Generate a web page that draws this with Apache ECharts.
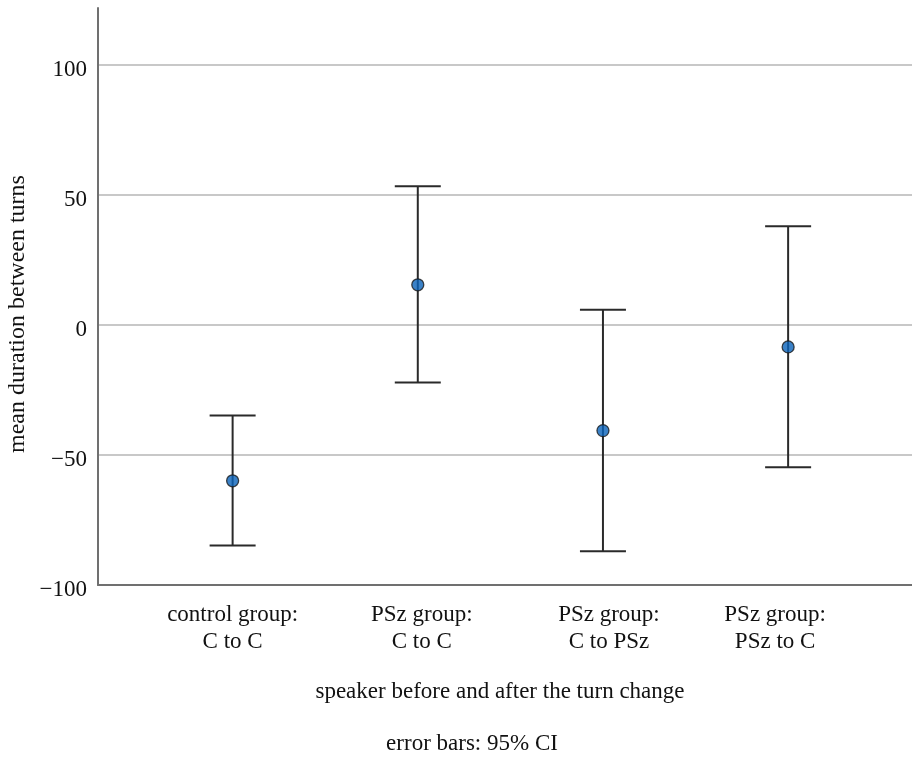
<!DOCTYPE html>
<html><head><meta charset="utf-8">
<script src="https://cdn.jsdelivr.net/npm/echarts@6/dist/echarts.min.js"></script>
<style>html,body{margin:0;padding:0;background:#fff}#c{width:912px;height:762px}</style>
</head><body><div id="c"></div>
<script>
const categories = ['control group:\nC to C', 'PSz group:\nC to C', 'PSz group:\nC to PSz', 'PSz group:\nPSz to C'];
const means = [-59.9, 15.5, -40.6, -8.4];
const lower = [-84.8, -22.1, -87.0, -54.7];
const upper = [-34.8, 53.4, 5.9, 38.0];
const yTicks = [-100, -50, 0, 50, 100];
const xTitle = 'speaker before and after the turn change';
const yTitle = 'mean duration between turns';
const note = 'error bars: 95% CI';

const FONT = '"Liberation Serif", "Times New Roman", serif';
const FS = 23;
const positions = categories.map((c, i) => i + 1);
const errData = positions.map((p, i) => [p, lower[i], upper[i]]);
const meanData = positions.map((p, i) => [p, means[i]]);

const lab = (pad) => ({fontFamily: FONT, fontSize: FS, color: '#111', lineHeight: 27, align: 'center', padding: pad});

const chart = echarts.init(document.getElementById('c'), null, {renderer: 'canvas'});
chart.setOption({
  animation: false,
  grid: {left: 98, right: 0, top: 8, bottom: 177, containLabel: false},
  xAxis: {
    type: 'value', min: 0.273, max: 4.669,
    axisLine: {show: true, onZero: false, lineStyle: {color: '#707070', width: 2}},
    axisTick: {show: false},
    splitLine: {show: false},
    axisLabel: {
      customValues: positions,
      margin: 16,
      formatter: function (v) {
        const i = Math.round(v) - 1;
        const lines = (categories[i] || '').split('\n');
        const st = 'c' + i;
        return lines.map(l => '{' + st + '|' + l + '}').join('\n');
      },
      rich: {
        c0: lab([0, 0, 0, 0]),
        c1: lab([0, 0, 0, 8]),
        c2: lab([0, 0, 0, 12]),
        c3: lab([0, 26, 0, 0])
      }
    }
  },
  yAxis: {
    type: 'value', min: -100, max: 122, interval: 50,
    axisLine: {show: true, onZero: false, lineStyle: {color: '#707070', width: 2}},
    axisTick: {show: false},
    splitLine: {show: true, showMaxLine: false, lineStyle: {color: '#c8c8c8', width: 2}},
    axisLabel: {
      customValues: yTicks,
      margin: 11,
      formatter: v => '{t|' + String(v).replace('-', '\u2212') + '}',
      rich: {
        t: {fontFamily: FONT, fontSize: FS, color: '#111', padding: [9, 0, 0, 0]}
      }
    }
  },
  series: [
    {
      type: 'custom',
      data: errData,
      encode: {x: 0, y: [1, 2]},
      renderItem: function (params, api) {
        const x = api.value(0);
        const lo = api.coord([x, api.value(1)]);
        const hi = api.coord([x, api.value(2)]);
        const hw = 23;
        const style = {stroke: '#2a2a2a', lineWidth: 2};
        return {
          type: 'group',
          children: [
            {type: 'line', shape: {x1: lo[0], y1: lo[1], x2: hi[0], y2: hi[1]}, style: style},
            {type: 'line', shape: {x1: hi[0] - hw, y1: hi[1], x2: hi[0] + hw, y2: hi[1]}, style: style},
            {type: 'line', shape: {x1: lo[0] - hw, y1: lo[1], x2: lo[0] + hw, y2: lo[1]}, style: style}
          ]
        };
      },
      z: 3
    },
    {
      type: 'scatter',
      data: meanData,
      symbol: 'circle',
      symbolSize: 12,
      itemStyle: {color: '#0a63ba', borderColor: '#1a1a1a', borderWidth: 1.3},
      z: 4
    }
  ],
  graphic: [
    {type: 'text', silent: true, x: 500, y: 692,
     style: {text: xTitle, font: FS + 'px ' + FONT, fill: '#111', align: 'center', verticalAlign: 'middle'}},
    {type: 'text', silent: true, x: 472, y: 744,
     style: {text: note, font: FS + 'px ' + FONT, fill: '#111', align: 'center', verticalAlign: 'middle'}},
    {type: 'text', silent: true, x: 18, y: 314, rotation: Math.PI / 2,
     style: {text: yTitle, font: '24px ' + FONT, fill: '#111', align: 'center', verticalAlign: 'middle'}}
  ]
});
</script></body></html>
